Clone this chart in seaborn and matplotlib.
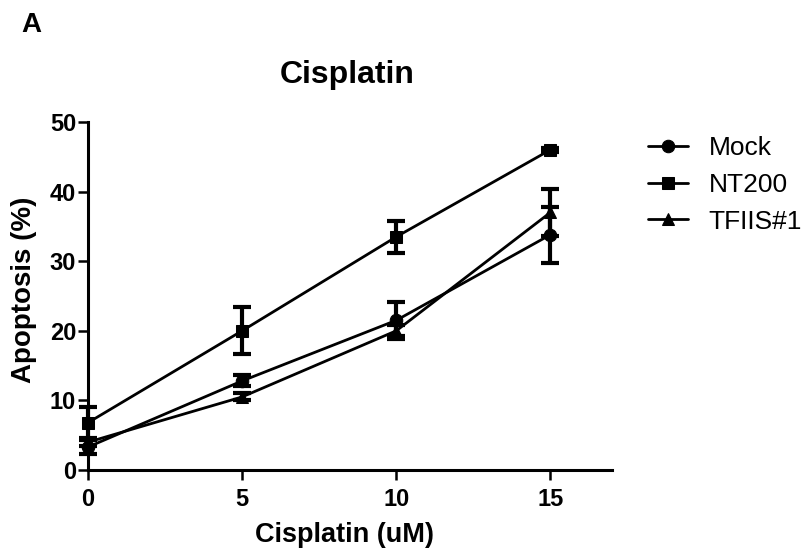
import matplotlib
matplotlib.use("Agg")
import matplotlib.pyplot as plt
import seaborn as sns
import pandas as pd

doses = [0, 5, 10, 15]
series = ["Mock", "NT200", "TFIIS#1"]
mock = [3.3, 12.8, 21.5, 33.8]
mock_err = [1.0, 0.8, 2.7, 4.0]
nt200 = [6.8, 20.0, 33.5, 46.0]
nt200_err = [2.2, 3.4, 2.3, 0.3]
tfiis = [4.0, 10.5, 20.0, 37.0]
tfiis_err = [0.5, 0.5, 0.8, 3.4]
xticks = [0, 5, 10, 15]
yticks = [0, 10, 20, 30, 40, 50]

values = {"Mock": mock, "NT200": nt200, "TFIIS#1": tfiis}
errors = {"Mock": mock_err, "NT200": nt200_err, "TFIIS#1": tfiis_err}
markers = {"Mock": "o", "NT200": "s", "TFIIS#1": "^"}

rows = []
for s in series:
    for d, v in zip(doses, values[s]):
        rows.append({"dose": d, "apoptosis": v, "group": s})
df = pd.DataFrame(rows)

sns.set_style("ticks")
plt.rcParams["font.family"] = ["Liberation Sans", "DejaVu Sans"]
plt.rcParams["text.color"] = "black"
plt.rcParams["axes.labelcolor"] = "black"
plt.rcParams["xtick.color"] = "black"
plt.rcParams["ytick.color"] = "black"
plt.rcParams["axes.edgecolor"] = "black"

fig = plt.figure(figsize=(8.1, 5.6), dpi=100)
ax = fig.add_axes([88 / 810, 1 - 470 / 560, 524 / 810, 348 / 560])

sns.lineplot(data=df, x="dose", y="apoptosis", style="group", markers=markers,
             dashes=False, color="black", linewidth=2, markersize=9,
             markeredgecolor="black", ax=ax, legend=True, clip_on=False, zorder=3)

for s in series:
    ax.errorbar(doses, values[s], yerr=errors[s], fmt="none", ecolor="black",
                elinewidth=3, capsize=6.5, capthick=3, clip_on=False, zorder=4)

ax.set_xlim(0, 17)
ax.set_ylim(0, 50)
ax.set_xticks(xticks)
ax.set_yticks(yticks)
for sp in ["left", "bottom"]:
    ax.spines[sp].set_linewidth(2.2)
sns.despine(ax=ax)
ax.tick_params(axis="both", width=1.8, length=7, labelsize=17, direction="out")
ax.tick_params(axis="y", pad=1.5)
ax.tick_params(axis="x", pad=6)
for lab in ax.get_xticklabels() + ax.get_yticklabels():
    lab.set_fontweight("bold")

ax.set_xlabel("Cisplatin (uM)", fontsize=19.5, fontweight="bold")
ax.xaxis.label.set_va("center")
ax.xaxis.set_label_coords(0.49, -0.187)
ax.set_ylabel("Apoptosis (%)", fontsize=20, fontweight="bold")
ax.yaxis.label.set_va("center")
ax.yaxis.label.set_ha("center")
ax.yaxis.set_label_coords(-0.122, 0.517)
ax.set_title("Cisplatin", fontsize=23, fontweight="bold", x=0.494, y=1.112, va="center")

leg = ax.legend(loc="center left", bbox_to_anchor=(648 / 810, 1 - 185 / 560),
                bbox_transform=fig.transFigure, frameon=False, fontsize=19,
                handlelength=1.5, handletextpad=0.8, labelspacing=0.48,
                borderpad=0, borderaxespad=0, title=None)

fig.text(31 / 810, 1 - 25 / 560, "A", fontsize=20, fontweight="bold", ha="center", va="center")

fig.savefig("out.png", dpi=100, facecolor="white")
